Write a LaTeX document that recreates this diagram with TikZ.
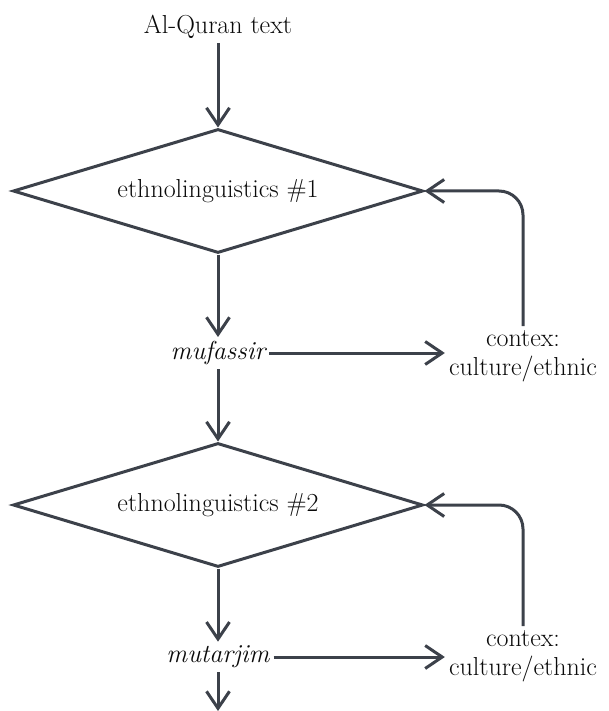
\documentclass[tikz,border=0pt]{standalone}
\usepackage{tikz}
\usetikzlibrary{arrows.meta,positioning,calc,shapes.geometric}
\definecolor{slate}{RGB}{60,65,74}
\definecolor{ink}{RGB}{10,10,10}

\begin{document}
\begin{tikzpicture}[x=1pt,y=-1pt,
    flow/.style={draw=slate,line width=3pt,-{Straight Barb[length=17pt,width=23pt]}},
    decision/.style={diamond,draw=slate,line width=3pt,aspect=3.3,minimum width=410pt,minimum height=124pt,inner sep=0pt},
    lbl/.style={text=ink,font=\fontsize{26}{29}\selectfont,inner sep=4pt},
    ctx/.style={lbl,align=center}]
    \useasboundingbox (0,0) rectangle (608,711);
    \node[lbl] (quran) at (218,27){Al-Quran text};
    \node[decision,lbl] (eth1) at (218,191){ethnolinguistics \#1};
    \node[lbl,font=\fontsize{26}{29}\selectfont\itshape] (muf) at (218,353){mufassir};
    \node[ctx] (ctx1) at (523,356){contex:\\culture/ethnic};
    \node[decision,lbl] (eth2) at (218,505){ethnolinguistics \#2};
    \node[lbl,font=\fontsize{26}{29}\selectfont\itshape] (mut) at (218,657){mutarjim};
    \node[ctx] (ctx2) at (523,656){contex:\\culture/ethnic};
    \coordinate (out) at (218,711);
    \draw[flow] (quran)--(eth1);
    \draw[flow] (eth1)--(muf);
    \draw[flow] (muf.east)--(muf.east -| ctx1.west);
    \draw[flow,rounded corners=24pt] (ctx1.north) |- (eth1.east);
    \draw[flow] (muf)--(eth2);
    \draw[flow] (eth2)--(mut);
    \draw[flow] (mut.east)--(mut.east -| ctx2.west);
    \draw[flow,rounded corners=24pt] (ctx2.north) |- (eth2.east);
    \draw[flow] (mut)--(out);
  \end{tikzpicture}
\end{document}
